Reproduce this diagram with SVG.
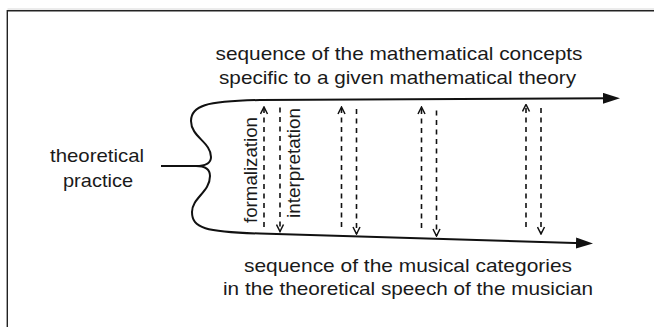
<svg xmlns="http://www.w3.org/2000/svg" width="654" height="327" viewBox="0 0 654 327">
<defs>
<style>
.t{font-family:"Liberation Sans",Arial,sans-serif;font-size:19px;fill:#1a1a1a}
.v{font-family:"Liberation Sans",Arial,sans-serif;font-size:18.6px;fill:#1a1a1a}
.main{fill:none;stroke:#111;stroke-width:2}
.d{fill:none;stroke:#111;stroke-width:1.6;stroke-dasharray:5 4.5}
</style>
<marker id="solid" viewBox="0 0 17 11" refX="7" refY="5.5" markerWidth="17" markerHeight="11" markerUnits="userSpaceOnUse" orient="auto">
<path d="M0,0 L17,5.5 L0,11 z" fill="#111"/>
</marker>
<marker id="open" viewBox="-1 -1 9 9" refX="7" refY="3.5" markerWidth="9" markerHeight="9" markerUnits="userSpaceOnUse" orient="auto">
<path d="M0,0 L7,3.5 L0,7" fill="none" stroke="#111" stroke-width="1.5" stroke-dasharray="none"/>
</marker>
</defs>
<rect width="654" height="327" fill="#fff"/>
<path d="M7.5,9 H654" fill="none" stroke="#d8d8d8" stroke-width="1"/>
<path d="M7.3,327 V10.7 H654" fill="none" stroke="#222" stroke-width="1.4"/>

<g id="theoretical-practice">
<text class="t" x="97" y="162" text-anchor="middle" textLength="94" lengthAdjust="spacingAndGlyphs">theoretical</text>
<text class="t" x="98" y="187" text-anchor="middle" textLength="70" lengthAdjust="spacingAndGlyphs">practice</text>
</g>

<g id="mathematical-sequence">
<text class="t" x="399" y="60" text-anchor="middle" textLength="367" lengthAdjust="spacingAndGlyphs">sequence of the mathematical concepts</text>
<text class="t" x="397.5" y="84" text-anchor="middle" textLength="357" lengthAdjust="spacingAndGlyphs">specific to a given mathematical theory</text>
</g>

<g id="musical-sequence">
<text class="t" x="408" y="272" text-anchor="middle" textLength="328" lengthAdjust="spacingAndGlyphs">sequence of the musical categories</text>
<text class="t" x="408" y="295" text-anchor="middle" textLength="370" lengthAdjust="spacingAndGlyphs">in the theoretical speech of the musician</text>
</g>

<g id="formalization-label">
<text class="v" transform="translate(256.5,170) rotate(-90)" text-anchor="middle" textLength="106" lengthAdjust="spacingAndGlyphs">formalization</text>
</g>
<g id="interpretation-label">
<text class="v" transform="translate(300,163) rotate(-90)" text-anchor="middle" textLength="110" lengthAdjust="spacingAndGlyphs">interpretation</text>
</g>

<g id="connectors">
<path class="main" d="M161,166 L197,166"/>
<path class="main" d="M196,166 C205,166 211,163 211,157 C211,142 191,137 191,121 C191,106 205,101 260,100 L610,98.3" marker-end="url(#solid)"/>
<path class="main" d="M196,166 C205,166 210,169 210,176 C210,192 192,198 192,212 C192,228 205,232 260,233.5 L583,243.2" marker-end="url(#solid)"/>

<path class="d" d="M264,227 V107" marker-end="url(#open)"/>
<path class="d" d="M280,107.5 V231.5" marker-end="url(#open)"/>
<path class="d" d="M341.5,227 V107" marker-end="url(#open)"/>
<path class="d" d="M356.5,109 V234" marker-end="url(#open)"/>
<path class="d" d="M421.5,228 V107" marker-end="url(#open)"/>
<path class="d" d="M436.5,110.5 V236" marker-end="url(#open)"/>
<path class="d" d="M526,227 V104.5" marker-end="url(#open)"/>
<path class="d" d="M541,108 V234" marker-end="url(#open)"/>
</g>
</svg>
